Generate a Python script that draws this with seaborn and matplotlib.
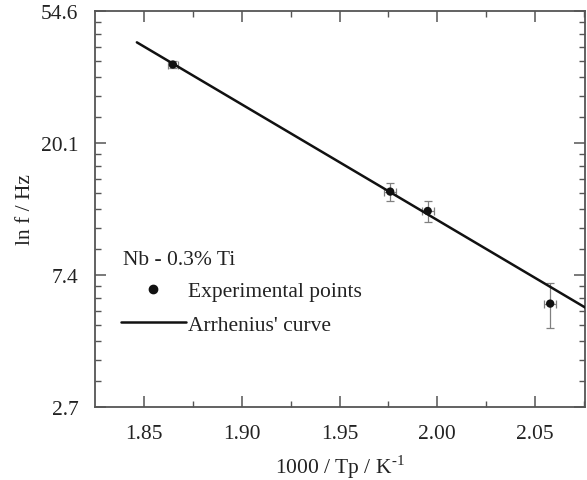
import numpy as np
import pandas as pd
import matplotlib
matplotlib.use("Agg")
import matplotlib.pyplot as plt
from matplotlib.lines import Line2D
import seaborn as sns

# Peak temperatures (1000/Tp, K^-1) and measuring frequencies (Hz)
inv_tp = [1.8648, 1.9759, 1.9951, 2.0577]
freq_hz = [36.4, 13.9, 12.0, 5.95]
freq_err = [1.0, 0.92, 0.97, 1.0]
inv_tp_err = [0.0025, 0.003, 0.003, 0.003]

# Arrhenius fit, ln f = ln f0 - (E/k)(1000/Tp) / 1000
curve_x = [1.8464, 2.0800]
curve_lnf = [3.7626, 1.7150]

ytick_vals = [np.e ** 1, np.e ** 2, np.e ** 3, np.e ** 4]
ytick_labels = ["2.7", "7.4", "20.1", "54.6"]
xtick_vals = [1.85, 1.90, 1.95, 2.00, 2.05]
xtick_labels = ["1.85", "1.90", "1.95", "2.00", "2.05"]

points = pd.DataFrame({"x": inv_tp, "f": freq_hz})
curve = pd.DataFrame({"x": curve_x, "f": np.exp(curve_lnf)})

sns.set_theme(style="ticks")
plt.rcParams["font.family"] = ["Liberation Serif", "DejaVu Serif"]
plt.rcParams["mathtext.fontset"] = "stix"

fig = plt.figure(figsize=(5.87, 4.81), dpi=100)
ax = fig.add_axes([95 / 587, 1 - 408 / 481, 490 / 587, 396 / 481])

spine_c = "#555555"
text_c = "#222222"
ax.set_yscale("log", base=np.e)

ax.errorbar(inv_tp, freq_hz, yerr=freq_err, xerr=inv_tp_err, fmt="none",
            ecolor="#808080", elinewidth=0.9, capsize=3, capthick=0.9, zorder=2)
sns.lineplot(data=curve, x="x", y="f", ax=ax, color="#111111", linewidth=1.8,
             zorder=3, legend=False)
sns.scatterplot(data=points, x="x", y="f", ax=ax, color="#111111", s=36,
                edgecolor="none", zorder=4, legend=False)

ax.set_xlim(1.825, 2.0755)
ax.set_ylim(np.e ** 1, np.e ** 4)

ax.set_xticks(xtick_vals)
ax.set_xticklabels(xtick_labels)
ax.set_xticks([1.875, 1.925, 1.975, 2.025, 2.075], minor=True)

ax.set_yticks(ytick_vals)
ax.set_yticklabels(ytick_labels)
minor_y = []
for lo, hi in zip(ytick_vals[:-1], ytick_vals[1:]):
    minor_y.extend(np.linspace(lo, hi, 9)[1:-1])
ax.set_yticks(minor_y, minor=True)
ax.yaxis.set_minor_formatter(matplotlib.ticker.NullFormatter())

fs = 15.5
ax.tick_params(which="both", direction="in", top=True, right=True,
               colors=spine_c, labelcolor=text_c, labelsize=fs)
ax.tick_params(which="major", length=8, width=1.1, pad=12)
ax.tick_params(which="minor", length=4, width=1.0)
for s in ax.spines.values():
    s.set_color(spine_c)
    s.set_linewidth(1.3)

ax.set_xlabel("1000 / Tp / K$^{\\mathregular{\u20101}}$", fontsize=fs, color=text_c,
              labelpad=7)
ax.set_ylabel("ln f / Hz", fontsize=fs, color=text_c, labelpad=4)

fig.text(123 / 587, 1 - 261 / 481, "Nb - 0.3% Ti", fontsize=fs, color=text_c,
         va="center", ha="left")

handles = [
    Line2D([], [], marker="o", linestyle="none", color="#111111", markersize=6),
    Line2D([], [], color="#111111", linewidth=1.8),
]
leg = ax.legend(handles, ["Experimental points", "Arrhenius' curve"],
                loc="upper left", bbox_to_anchor=(121 / 587, 1 - 282 / 481),
                bbox_transform=fig.transFigure, frameon=False, fontsize=fs,
                handlelength=3.0, handletextpad=0.1, labelspacing=0.63,
                borderpad=0, borderaxespad=0)
for t in leg.get_texts():
    t.set_color(text_c)

fig.savefig("out.png", dpi=100)
